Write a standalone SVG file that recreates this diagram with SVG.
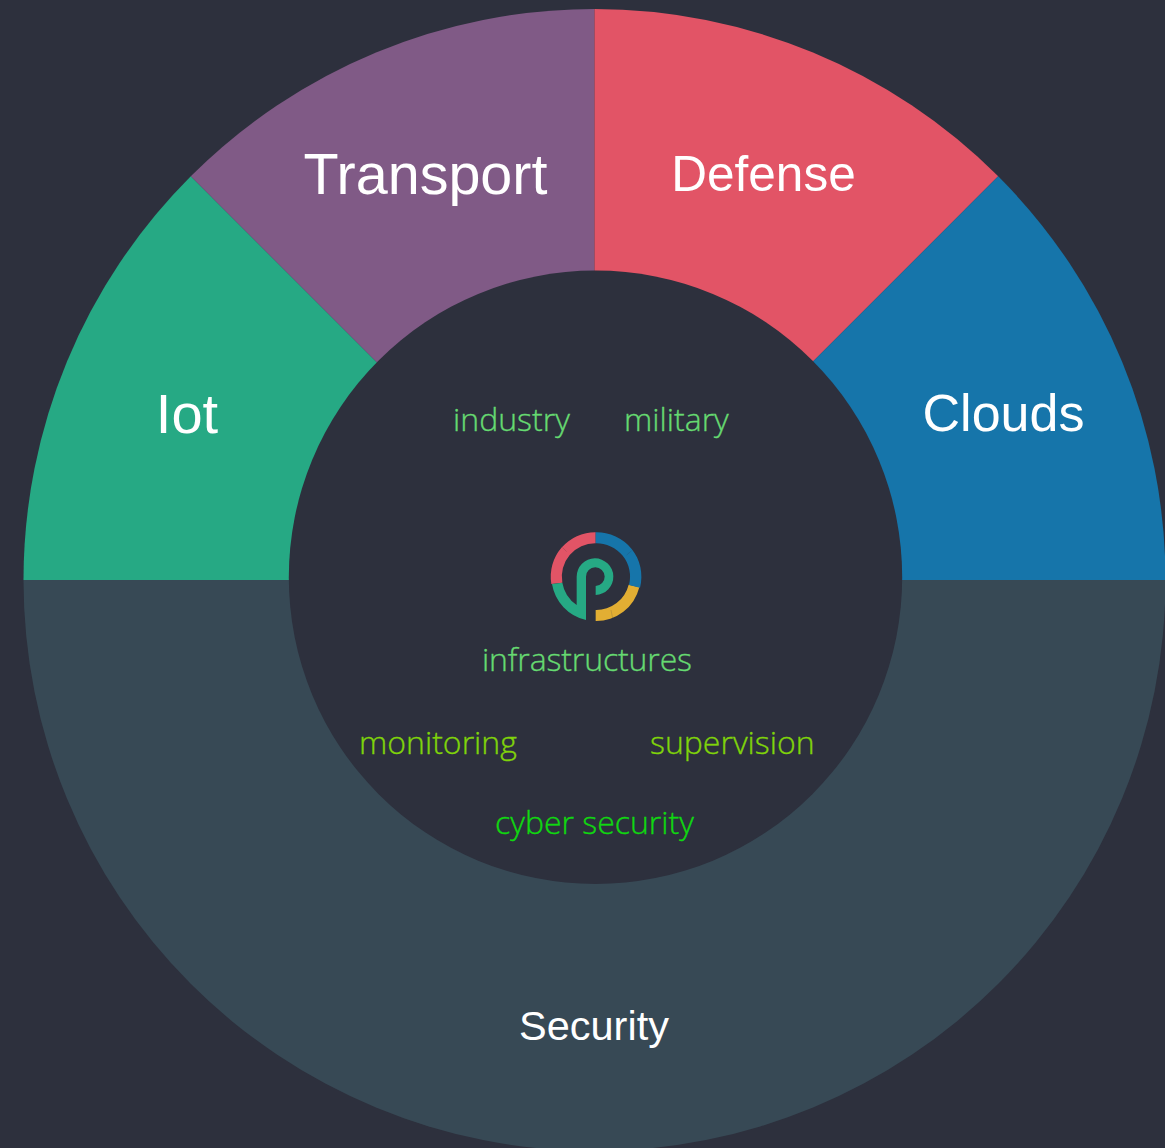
<svg xmlns="http://www.w3.org/2000/svg" width="1165" height="1148" viewBox="0 0 1165 1148">
<style>
.w{font-family:"Liberation Sans",Arial,sans-serif;fill:#fff}
.k{font-family:"Open Sans",sans-serif;font-weight:300;font-size:32px;stroke-width:.35px}
.a{fill:#66da71;stroke:#66da71}.b{fill:#80d40a;stroke:#80d40a}.c{fill:#10d810;stroke:#10d810}
.s{stroke:#2d303d;stroke-width:1.500;stroke-opacity:.35;fill:none}
</style>
<rect width="1165" height="1148" fill="#2d303d"/>
<g id="security"><path d="M23.500 580A571 571 0 0 0 1165.500 580Z" fill="#374955"/><text class="w" x="594" y="1039.500" font-size="41.500" text-anchor="middle">Security</text></g>
<g id="iot"><path d="M23.500 580A571 571 0 0 1 190.800 176.300L594.500 580Z" fill="#26a984"/><text class="w" x="187" y="432.500" font-size="56" text-anchor="middle">Iot</text></g>
<g id="transport"><path d="M190.800 176.300A571 571 0 0 1 594.500 9V580Z" fill="#805a86"/><text class="w" x="425.500" y="193.500" font-size="57.500" text-anchor="middle">Transport</text></g>
<g id="defense"><path d="M594.500 9A571 571 0 0 1 998.200 176.300L594.500 580Z" fill="#e25466"/><text class="w" x="763.500" y="190.500" font-size="49.500" text-anchor="middle">Defense</text></g>
<g id="clouds"><path d="M998.200 176.300A571 571 0 0 1 1165.500 580H594.500Z" fill="#1675aa"/><text class="w" x="1003.500" y="431" font-size="52" text-anchor="middle">Clouds</text></g>
<g id="center"><circle cx="595.500" cy="577.300" r="306.700" fill="#2d303d"/></g>
<g id="logo" transform="translate(530 515) scale(.33333)">
<path d="M197 52A133 133 0 0 0 64 207L97 203A100 100 0 0 1 197 85Z" fill="#e25466"/>
<path d="M328 217A133 133 0 0 1 197 318V285A100 100 0 0 0 296 209Z" fill="#e2ae33"/>
<path d="M197 52A133 133 0 0 1 330 218L297 210A100 100 0 0 0 197 85Z" fill="#1675aa"/>
<path d="M66 207A133 133 0 0 0 168 315V185A28 28 0 1 1 197 213V240A55 55 0 1 0 140 185V270A102 102 0 0 1 97 203Z" fill="#26a984"/>
<path class="s" d="M97 97L110 110M305 107L290 120M243 285L248 310"/>
</g>
<g id="labels">
<text class="k a" x="453" y="431">industry</text>
<text class="k a" x="624" y="431">military</text>
<text class="k a" x="482" y="671" textLength="210">infrastructures</text>
<text class="k b" x="359" y="754">monitoring</text>
<text class="k b" x="650" y="754">supervision</text>
<text class="k c" x="495" y="834">cyber security</text>
</g>
<g id="connectors"/>
</svg>
